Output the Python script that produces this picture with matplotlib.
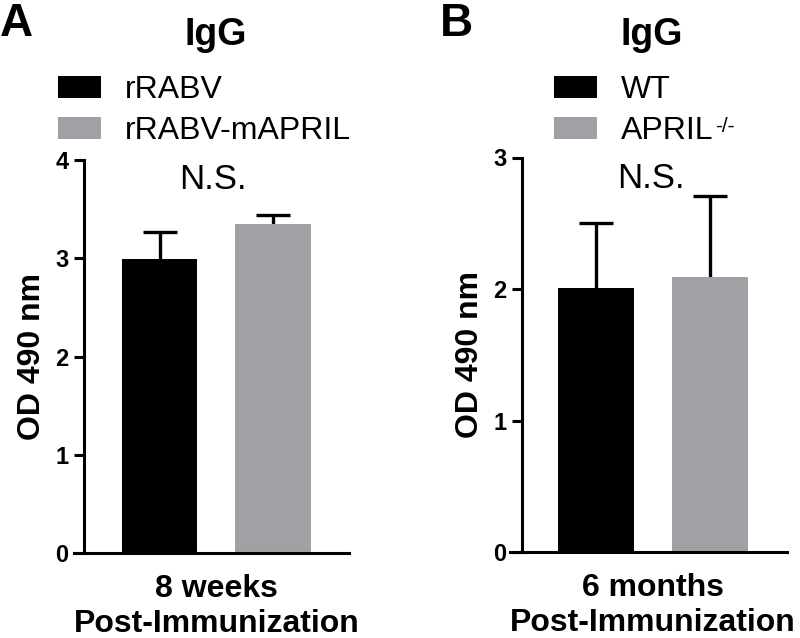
import matplotlib
matplotlib.use("Agg")
import matplotlib.pyplot as plt
from matplotlib.patches import Patch
import numpy as np

plt.rcParams['font.family'] = ['Liberation Sans', 'DejaVu Sans']

# panel A
groups_a = ["rRABV", "rRABV-mAPRIL"]
means_a = [2.99, 3.35]
sem_a = [0.28, 0.09]
# panel B
groups_b = ["WT", "APRIL"]
means_b = [2.01, 2.09]
sem_b = [0.49, 0.62]

colors = ["#000000", "#a1a1a5"]
fs = 23

fig = plt.figure(figsize=(8, 6.38), dpi=100)
axA = fig.add_axes([74/800, 85/638, 275/800, 393/638])
axB = fig.add_axes([510/800, 86/638, 277/800, 394.5/638])


def draw(ax, groups, means, sems, ymax, xl, xr, spine_x, xlabel, title, letter, lx, tx, legx):
    ax.spines['top'].set_visible(False)
    ax.spines['right'].set_visible(False)
    ax.spines['left'].set_position(('data', spine_x))
    ax.spines['left'].set_linewidth(2.2)
    ax.spines['bottom'].set_linewidth(2.2)
    xs = np.array([0, 1.5])
    for x, m, s, c in zip(xs, means, sems, colors):
        eb = ax.errorbar(x, m, yerr=[[0], [s]], fmt='none', ecolor='black',
                         elinewidth=2.4, capsize=12, capthick=2.4, zorder=1)
        eb[1][0].set_visible(False)  # only the upper cap
        ax.bar(x, m, width=1.0, color=c, zorder=2)
    ax.set_xlim(xl, xr)
    ax.set_ylim(0, ymax)
    ax.tick_params(axis='x', length=0, pad=15)
    ax.tick_params(axis='y', length=7.2, width=2.2, pad=4, labelsize=17)
    ax.set_yticks(range(ymax + 1))
    ax.set_yticklabels([str(v) for v in range(ymax + 1)], fontsize=17, fontweight='bold')
    ax.set_xticks([0.75])
    ax.set_xticklabels([xlabel], fontsize=fs, fontweight='bold', linespacing=1.22)
    ax.set_ylabel("OD 490 nm", fontsize=fs, fontweight='bold', labelpad=6)
    fig.text(tx / 800, 1 - 35/638, title, fontsize=27, fontweight='bold',
             ha='center', va='center')
    fig.text(lx / 800, 1 - 24/638, letter, fontsize=33, fontweight='bold',
             ha='left', va='center')
    handles = [Patch(facecolor=c, edgecolor='none') for c in colors]
    leg = ax.legend(handles, groups, loc='upper left',
                    bbox_to_anchor=(legx / 800, 1 - 75/638),
                    bbox_transform=fig.transFigure, frameon=False, fontsize=fs,
                    handlelength=1.35, handleheight=0.66, handletextpad=0.75,
                    labelspacing=0.35, borderpad=0, borderaxespad=0)
    return leg


draw(axA, groups_a, means_a, sem_a, 4, -1.13, 2.5, -1.0,
     "8 weeks\nPost-Immunization", "IgG", "A", 0, 216, 58)
legB = draw(axB, groups_b, means_b, sem_b, 3, -1.14, 2.52, -0.98,
            "6 months\nPost-Immunization", "IgG", "B", 440, 652, 554)

fig.text(213/800, 1 - 180/638, "N.S.", fontsize=25, ha='center', va='center')
fig.text(651/800, 1 - 178/638, "N.S.", fontsize=25, ha='center', va='center')

# superscript -/- after "APRIL"
fig.canvas.draw()
bb = legB.get_texts()[1].get_window_extent()
fig.text((bb.x1 + 1) / 800, (bb.y1 - 1) / 638, "-/-", fontsize=15,
         ha='left', va='top')

fig.savefig("out.png", dpi=100)
